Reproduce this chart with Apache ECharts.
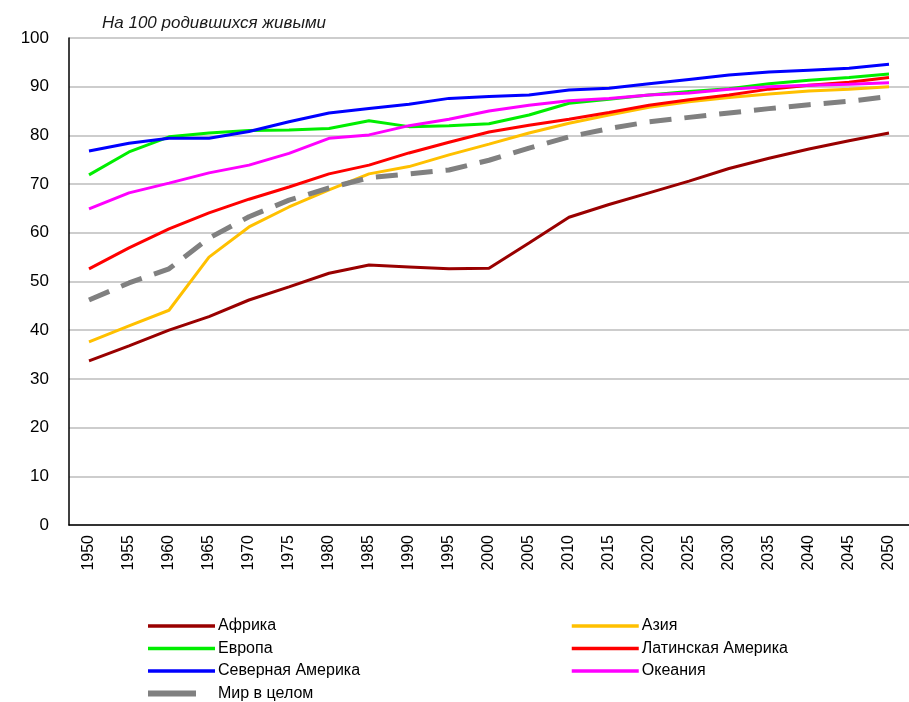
<!DOCTYPE html>
<html>
<head>
<meta charset="utf-8">
<script src="https://cdn.jsdelivr.net/npm/echarts@6/dist/echarts.min.js"></script>
<style>
  html, body { margin: 0; padding: 0; background: #fff; }
  #chart { width: 909px; height: 702px; }
</style>
</head>
<body>
<div id="chart"></div>
<script>
const years = ['1950', '1955', '1960', '1965', '1970', '1975', '1980', '1985', '1990', '1995', '2000',
  '2005', '2010', '2015', '2020', '2025', '2030', '2035', '2040', '2045', '2050']

const africa = [33.7, 36.8, 40.0, 42.8, 46.2, 48.9, 51.7, 53.4, 53.0, 52.6, 52.7,
  57.9, 63.2, 65.8, 68.2, 70.6, 73.2, 75.3, 77.2, 78.9, 80.5]
const asia = [37.6, 40.9, 44.1, 55.0, 61.2, 65.3, 68.8, 72.1, 73.6, 76.0, 78.2,
  80.5, 82.5, 84.2, 85.8, 86.9, 87.8, 88.5, 89.1, 89.5, 90.0]
const europe = [71.9, 76.6, 79.7, 80.5, 81.0, 81.1, 81.4, 83.0, 81.8, 82.0, 82.4,
  84.2, 86.6, 87.4, 88.3, 89.0, 89.6, 90.6, 91.3, 91.9, 92.6]
const latinAmerica = [52.6, 56.9, 60.8, 64.1, 66.9, 69.4, 72.1, 73.9, 76.4, 78.6, 80.7,
  82.1, 83.3, 84.7, 86.2, 87.3, 88.3, 89.5, 90.3, 90.9, 91.9]
const northAmerica = [76.8, 78.4, 79.4, 79.4, 80.8, 82.8, 84.6, 85.5, 86.4, 87.6, 88.0,
  88.3, 89.3, 89.7, 90.6, 91.5, 92.4, 93.0, 93.4, 93.8, 94.6]
const oceania = [64.9, 68.2, 70.2, 72.3, 73.9, 76.3, 79.4, 80.1, 82.0, 83.3, 85.0,
  86.2, 87.1, 87.6, 88.3, 88.7, 89.5, 90.0, 90.3, 90.5, 90.8]
const world = [46.2, 49.7, 52.6, 58.9, 63.3, 66.7, 69.2, 71.3, 72.1, 72.9, 74.9,
  77.4, 79.7, 81.4, 82.8, 83.7, 84.6, 85.5, 86.3, 87.0, 88.0]

const font = 'Arial, "Liberation Sans", sans-serif'

function line(name, data, color) {
  return {
    name, type: 'line', data, symbol: 'none', smooth: false,
    lineStyle: { color, width: 3 }, itemStyle: { color }
  }
}

const legendBase = {
  orient: 'vertical', top: 617, height: 110, padding: 0, itemWidth: 67, itemHeight: 14, itemGap: 4.5,
  itemStyle: { opacity: 0 },
  lineStyle: { width: 3.5 },
  textStyle: { fontFamily: font, fontSize: 16, lineHeight: 18, color: '#000', padding: [0, 0, 0, -2] }
}

const chart = echarts.init(document.getElementById('chart'))
chart.setOption({
  animation: false,
  title: {
    text: 'На 100 родившихся живыми', left: 97, top: 10,
    textStyle: { fontFamily: font, fontSize: 17, fontStyle: 'italic', fontWeight: 'normal', color: '#1a1a1a' }
  },
  grid: { left: 69, top: 38, width: 848, height: 487, containLabel: false },
  legend: [
    Object.assign({}, legendBase, {
      left: 145,
      data: ['Африка', 'Европа', 'Северная Америка',
        { name: 'Мир в целом', lineStyle: { width: 6, type: [48, 30], color: '#808080' } }]
    }),
    Object.assign({}, legendBase, { left: 570, data: ['Азия', 'Латинская Америка', 'Океания'] })
  ],
  xAxis: {
    type: 'category', data: years, boundaryGap: true,
    axisLine: { lineStyle: { color: '#000', width: 1.5 } },
    axisTick: { show: false },
    axisLabel: { rotate: 90, interval: 0, margin: 10, fontFamily: font, fontSize: 16, color: '#000' }
  },
  yAxis: {
    type: 'value', min: 0, max: 100, interval: 10,
    axisLine: { show: true, lineStyle: { color: '#000', width: 1.5 } },
    axisTick: { show: false },
    axisLabel: { margin: 20, fontFamily: font, fontSize: 17, color: '#000' },
    splitLine: { lineStyle: { color: '#bdbdbd', width: 1.5 } }
  },
  series: [
    line('Африка', africa, '#990000'),
    line('Азия', asia, '#ffc000'),
    line('Европа', europe, '#00ee00'),
    line('Латинская Америка', latinAmerica, '#ff0000'),
    line('Северная Америка', northAmerica, '#0000ff'),
    line('Океания', oceania, '#ff00ff'),
    {
      name: 'Мир в целом', type: 'line', data: world, symbol: 'none',
      lineStyle: { color: '#808080', width: 5, type: [22, 13] }, itemStyle: { color: '#808080' }
    }
  ]
})
</script>
</body>
</html>
